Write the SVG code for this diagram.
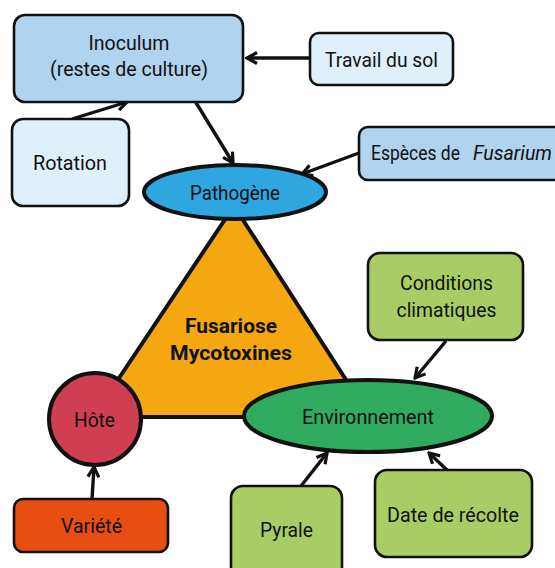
<svg xmlns="http://www.w3.org/2000/svg" width="555" height="568" viewBox="0 0 555 568">
<style>
text{font-family:Roboto,"Liberation Sans",sans-serif;font-size:21px;fill:#111;text-anchor:middle}
.b{stroke:#111;stroke-width:2.6}
.e{stroke:#111;stroke-width:4}
.c{stroke:#111;stroke-width:3.4;fill:none;marker-end:url(#ah)}
.bold{font-weight:bold}
</style>
<defs>
<marker id="ah" viewBox="0 0 14 14" refX="12" refY="7" markerWidth="14" markerHeight="14" markerUnits="userSpaceOnUse" orient="auto">
<path d="M2,1.5 L12,7 L2,12.5" fill="none" stroke="#111" stroke-width="3.2"/>
</marker>
</defs>
<rect width="555" height="568" fill="#fff"/>
<g id="triangle">
<polygon points="234,206 93,417 370,417" fill="#f5a712" stroke="#111" stroke-width="4" stroke-linejoin="round"/>
<text class="bold" x="231" y="333" textLength="92" lengthAdjust="spacingAndGlyphs">Fusariose</text>
<text class="bold" x="231" y="360" textLength="122" lengthAdjust="spacingAndGlyphs">Mycotoxines</text>
</g>
<g id="connectors">
<line class="c" x1="310" y1="58" x2="247" y2="58"/>
<line class="c" x1="72" y1="119" x2="127" y2="102"/>
<line class="c" x1="195" y1="101" x2="233" y2="163"/>
<line class="c" x1="359" y1="153" x2="302" y2="174"/>
<line class="c" x1="92" y1="499" x2="94" y2="467"/>
<line class="c" x1="446" y1="341" x2="415" y2="378"/>
<line class="c" x1="301" y1="486" x2="327" y2="453"/>
<line class="c" x1="447" y1="470" x2="429" y2="453"/>
</g>
<g id="inoculum">
<rect class="b" x="14" y="15" width="229" height="87" rx="11" fill="#b0d3f0"/>
<text x="129" y="50" textLength="81" lengthAdjust="spacingAndGlyphs">Inoculum</text>
<text x="129" y="76" textLength="158" lengthAdjust="spacingAndGlyphs">(restes de culture)</text>
</g>
<g id="travail">
<rect class="b" x="310" y="33" width="143" height="52" rx="9" fill="#ddf0fb"/>
<text x="381.5" y="67" textLength="113" lengthAdjust="spacingAndGlyphs">Travail du sol</text>
</g>
<g id="rotation">
<rect class="b" x="12" y="119" width="117" height="87" rx="11" fill="#ddf0fb"/>
<text x="70" y="170" textLength="74" lengthAdjust="spacingAndGlyphs">Rotation</text>
</g>
<g id="especes">
<rect class="b" x="359" y="127" width="210" height="53" rx="9" fill="#b0d3f0"/>
<text x="415.5" y="160" textLength="89" lengthAdjust="spacingAndGlyphs">Espèces de</text>
<text x="512.5" y="160" font-style="italic" textLength="79" lengthAdjust="spacingAndGlyphs">Fusarium</text>
</g>
<g id="pathogene">
<ellipse class="e" cx="235" cy="192" rx="91" ry="27" fill="#2ea7e0"/>
<text x="235" y="200" textLength="90" lengthAdjust="spacingAndGlyphs">Pathogène</text>
</g>
<g id="hote">
<circle class="e" cx="95" cy="419" r="46" fill="#d03f51"/>
<text x="94.5" y="427" textLength="41" lengthAdjust="spacingAndGlyphs">Hôte</text>
</g>
<g id="environnement">
<ellipse class="e" cx="368" cy="416" rx="124" ry="36" fill="#30ab5f"/>
<text x="368" y="424" textLength="132" lengthAdjust="spacingAndGlyphs">Environnement</text>
</g>
<g id="conditions">
<rect class="b" x="368" y="253" width="155" height="87" rx="12" fill="#a9cd64"/>
<text x="446.5" y="290" textLength="93" lengthAdjust="spacingAndGlyphs">Conditions</text>
<text x="446.5" y="317" textLength="100" lengthAdjust="spacingAndGlyphs">climatiques</text>
</g>
<g id="variete">
<rect class="b" x="14" y="499" width="154" height="53" rx="9" fill="#e64e12"/>
<text x="91.5" y="533" textLength="61" lengthAdjust="spacingAndGlyphs">Variété</text>
</g>
<g id="pyrale">
<rect class="b" x="231" y="486" width="111" height="95" rx="12" fill="#a9cd64"/>
<text x="286.5" y="537" textLength="53" lengthAdjust="spacingAndGlyphs">Pyrale</text>
</g>
<g id="date">
<rect class="b" x="375" y="470" width="157" height="87" rx="12" fill="#a9cd64"/>
<text x="453" y="522" textLength="132" lengthAdjust="spacingAndGlyphs">Date de récolte</text>
</g>
</svg>
